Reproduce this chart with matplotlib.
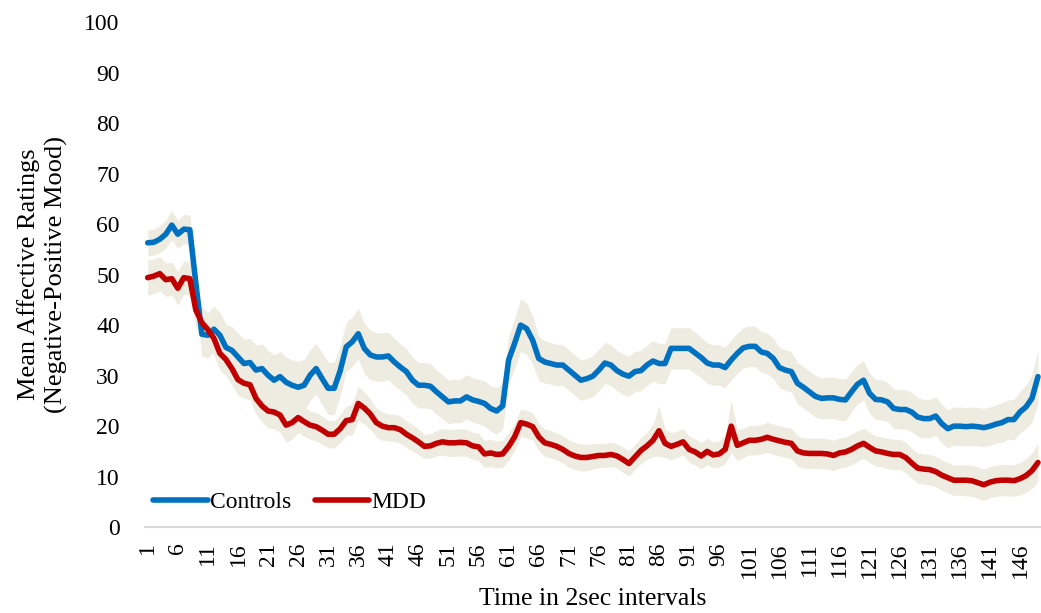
import numpy as np
import matplotlib
matplotlib.use("Agg")
import matplotlib.pyplot as plt

# mean ratings per 2 sec interval
controls = [
    56.3, 56.4, 57.0, 58.0, 59.8, 58.0, 59.0, 58.9, 48.3, 38.2,
    38.0, 39.2, 38.0, 35.6, 35.0, 33.7, 32.4, 32.6, 31.1, 31.4,
    30.1, 29.1, 29.8, 28.7, 28.1, 27.7, 28.1, 30.1, 31.4, 29.4,
    27.5, 27.5, 31.0, 35.7, 36.7, 38.3, 35.4, 34.1, 33.7, 33.7,
    33.9, 32.7, 31.7, 30.8, 29.1, 28.1, 28.1, 27.9, 26.8, 25.8,
    24.8, 25.0, 25.0, 25.8, 25.2, 24.9, 24.5, 23.5, 23.0, 24.0,
    33.1, 36.4, 40.0, 39.3, 37.0, 33.4, 32.7, 32.4, 32.1, 32.1,
    31.1, 30.1, 29.1, 29.4, 29.9, 31.1, 32.5, 32.1, 31.0, 30.3,
    29.9, 30.8, 31.0, 32.1, 32.9, 32.4, 32.4, 35.4, 35.4, 35.4,
    35.4, 34.5, 33.6, 32.5, 32.1, 32.1, 31.6, 33.1, 34.4, 35.5,
    35.8, 35.8, 34.7, 34.4, 33.4, 31.6, 31.1, 30.8, 28.5, 27.7,
    26.8, 25.9, 25.5, 25.6, 25.6, 25.3, 25.2, 26.8, 28.3, 29.1,
    26.5, 25.3, 25.2, 24.8, 23.5, 23.3, 23.3, 22.8, 21.8, 21.5,
    21.5, 22.0, 20.5, 19.5, 20.0, 20.0, 19.9, 20.0, 19.9, 19.7,
    20.0, 20.4, 20.7, 21.3, 21.3, 22.8, 23.8, 25.5, 29.8,
]
mdd = [
    49.4, 49.7, 50.2, 49.0, 49.2, 47.3, 49.4, 49.2, 43.0, 40.5,
    39.1, 37.4, 34.4, 33.2, 31.4, 29.2, 28.5, 28.2, 25.5, 24.0,
    23.0, 22.8, 22.2, 20.2, 20.7, 21.7, 20.9, 20.2, 19.9, 19.2,
    18.4, 18.4, 19.5, 21.1, 21.3, 24.5, 23.6, 22.4, 20.7, 20.0,
    19.7, 19.7, 19.3, 18.4, 17.7, 16.9, 16.0, 16.1, 16.6, 16.9,
    16.7, 16.7, 16.8, 16.7, 16.1, 15.9, 14.5, 14.7, 14.4, 14.5,
    16.0, 17.9, 20.7, 20.4, 19.9, 17.9, 16.7, 16.4, 16.0, 15.4,
    14.6, 14.1, 13.8, 13.8, 14.0, 14.2, 14.2, 14.4, 14.1, 13.4,
    12.6, 13.9, 15.2, 16.1, 17.2, 19.1, 16.6, 16.0, 16.4, 16.9,
    15.4, 14.9, 14.1, 15.0, 14.3, 14.5, 15.4, 20.0, 16.2, 16.7,
    17.2, 17.2, 17.4, 17.8, 17.4, 17.1, 16.8, 16.6, 15.1, 14.7,
    14.6, 14.6, 14.6, 14.5, 14.2, 14.7, 14.9, 15.4, 16.1, 16.6,
    15.8, 15.1, 14.9, 14.6, 14.4, 14.4, 13.8, 12.7, 11.7, 11.5,
    11.4, 11.0, 10.3, 9.8, 9.3, 9.3, 9.3, 9.2, 8.8, 8.4,
    8.9, 9.2, 9.3, 9.3, 9.2, 9.6, 10.2, 11.2, 12.8,
]

# standard errors (shaded bands)
controls_se = [
    2.6, 2.6, 2.7, 2.8, 2.9, 2.8, 2.9, 2.9, 3.6, 4.3,
    4.5, 4.6, 4.6, 4.6, 4.7, 4.7, 4.8, 4.8, 4.9, 4.9,
    4.9, 5.0, 5.0, 5.0, 5.0, 5.1, 5.1, 5.0, 5.0, 5.1,
    5.2, 5.2, 5.0, 4.9, 4.9, 5.0, 5.0, 4.9, 4.8, 4.8,
    4.7, 4.7, 4.6, 4.6, 4.6, 4.5, 4.5, 4.5, 4.4, 4.4,
    4.3, 4.3, 4.3, 4.4, 4.4, 4.4, 4.5, 4.5, 4.6, 4.6,
    4.8, 5.0, 5.2, 5.1, 4.8, 4.4, 4.2, 4.1, 4.1, 4.0,
    4.0, 4.0, 4.0, 4.0, 4.1, 4.1, 4.1, 4.0, 4.0, 4.0,
    4.0, 4.0, 4.0, 4.0, 4.0, 4.0, 4.0, 4.1, 4.1, 4.1,
    4.1, 4.1, 4.0, 4.0, 4.0, 4.0, 4.0, 4.0, 4.0, 4.0,
    4.0, 4.0, 4.0, 4.0, 4.0, 4.0, 4.0, 4.0, 4.1, 4.1,
    4.1, 4.1, 4.1, 4.1, 4.1, 4.1, 4.1, 4.0, 3.9, 3.9,
    4.0, 4.0, 4.0, 3.9, 3.9, 3.9, 3.9, 3.9, 3.8, 3.8,
    3.8, 3.8, 3.8, 3.8, 3.8, 3.8, 3.8, 3.8, 3.8, 3.8,
    3.8, 3.8, 3.9, 3.9, 4.0, 4.1, 4.3, 4.7, 5.2,
]
mdd_se = [
    3.5, 3.4, 3.4, 3.3, 3.3, 3.3, 3.3, 3.3, 3.3, 3.3,
    3.3, 3.3, 3.3, 3.2, 3.2, 3.1, 3.0, 3.0, 3.1, 3.2,
    3.3, 3.3, 3.4, 3.4, 3.3, 3.0, 2.9, 2.8, 2.8, 2.8,
    2.7, 2.7, 2.8, 2.9, 3.1, 3.4, 3.2, 3.0, 2.9, 2.8,
    2.7, 2.7, 2.7, 2.6, 2.6, 2.5, 2.4, 2.4, 2.5, 2.6,
    2.7, 2.7, 2.7, 2.7, 2.7, 2.7, 2.7, 2.7, 2.7, 2.7,
    2.7, 2.7, 2.7, 2.7, 2.7, 2.7, 2.7, 2.7, 2.7, 2.7,
    2.7, 2.7, 2.7, 2.6, 2.5, 2.4, 2.4, 2.4, 2.4, 2.5,
    2.5, 2.5, 2.6, 2.7, 3.2, 5.0, 2.8, 2.7, 2.6, 2.6,
    2.6, 2.6, 2.6, 2.6, 2.6, 2.6, 2.8, 5.2, 3.0, 2.9,
    2.9, 2.9, 2.9, 3.0, 3.0, 3.0, 3.0, 3.0, 3.0, 3.0,
    3.0, 3.0, 3.0, 3.0, 3.0, 3.0, 3.0, 3.0, 3.0, 3.0,
    3.0, 3.0, 3.0, 3.0, 3.0, 3.0, 3.0, 3.0, 3.0, 3.0,
    3.0, 3.0, 3.0, 3.0, 3.0, 3.0, 3.1, 3.1, 3.1, 3.1,
    3.1, 3.1, 3.1, 3.1, 3.1, 3.2, 3.3, 3.5, 3.8,
]

intervals = np.arange(1, len(controls) + 1)
tick_pos = intervals[::5]
tick_labels = [str(t) for t in tick_pos]

plt.rcParams["font.family"] = ["Liberation Serif", "DejaVu Serif"]

fig = plt.figure(figsize=(10.41, 6.13), dpi=100)
ax = fig.add_axes([0.139, 0.140, 0.861, 0.824])

band = "#EEECE1"
c = np.array(controls)
m = np.array(mdd)
cse = np.array(controls_se)
mse = np.array(mdd_se)
ax.fill_between(intervals, c - cse, c + cse, color=band, linewidth=0, zorder=1)
ax.fill_between(intervals, m - mse, m + mse, color=band, linewidth=0, zorder=1)
ax.plot(intervals, controls, color="#0070C0", lw=4.0, label="Controls", zorder=3,
        solid_joinstyle="round", solid_capstyle="round")
ax.plot(intervals, mdd, color="#C00000", lw=4.0, label="MDD", zorder=3,
        solid_joinstyle="round", solid_capstyle="round")

ax.set_xlim(0.5, len(controls) + 0.5)
ax.set_ylim(0, 100)
ax.set_yticks(np.arange(0, 101, 10))
ax.set_xticks(tick_pos)
ax.set_xticklabels(tick_labels, rotation=90)
ax.tick_params(axis="both", length=0, labelsize=17)
ax.tick_params(axis="y", pad=18)
ax.tick_params(axis="x", pad=11)

for side in ["top", "right", "left"]:
    ax.spines[side].set_visible(False)
ax.spines["bottom"].set_color("#D9D9D9")
ax.spines["bottom"].set_linewidth(1.5)

ax.set_xlabel("Time in 2sec intervals", fontsize=18.5, labelpad=7)
ax.set_ylabel("Mean Affective Ratings\n(Negative-Positive Mood)", fontsize=19,
              labelpad=12, linespacing=1.25)

ax.legend(loc="lower left", bbox_to_anchor=(-0.006, 0.0), ncol=2, frameon=False,
          fontsize=17, handlelength=2.3, handletextpad=0.1, columnspacing=1.0,
          borderaxespad=0.2)

plt.savefig("out.png", dpi=100)
